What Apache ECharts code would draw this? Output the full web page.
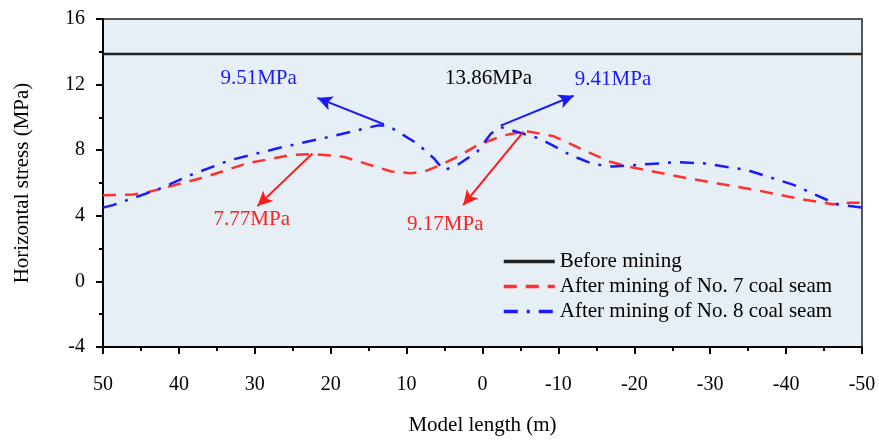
<!DOCTYPE html>
<html>
<head>
<meta charset="utf-8">
<script src="https://cdn.jsdelivr.net/npm/echarts@6/dist/echarts.min.js"></script>
<style>
  html, body { margin: 0; padding: 0; background: #fff; }
  #chart { width: 879px; height: 444px; }
</style>
</head>
<body>
<div id="chart"></div>
<script>
// model length positions (m) and horizontal stress (MPa)
const beforeX = [50, -50];
const beforeY = [13.86, 13.86];

const seam7X = [50, 46, 44, 37, 31, 25.3, 22.4, 18.3, 12, 9.5, 7.7, 5.5, 2.9, 0.7, -2.8, -5.7, -9.4, -12.9, -16.8, -19.5, -26.9, -35.7, -42.2, -46.2, -48.4, -50];
const seam7Y = [5.25, 5.3, 5.45, 6.3, 7.2, 7.7, 7.77, 7.6, 6.7, 6.6, 6.7, 7.1, 7.7, 8.3, 8.9, 9.17, 8.85, 8.1, 7.3, 6.97, 6.3, 5.6, 5.0, 4.7, 4.8, 4.8];

const seam8X = [50, 48.7, 42.8, 38.4, 33.2, 26.6, 20, 13.9, 12.5, 8.6, 6.4, 5.1, 3.3, 0.7, -1.1, -2.4, -7.6, -11.6, -14.6, -17.2, -20.3, -25.6, -29.1, -34.8, -40.9, -46.7, -50];
const seam8Y = [4.5, 4.65, 5.6, 6.5, 7.4, 8.16, 8.83, 9.5, 9.51, 8.4, 7.5, 6.77, 7.1, 7.9, 9.0, 9.41, 8.7, 7.7, 7.15, 7.0, 7.1, 7.27, 7.2, 6.8, 5.9, 4.7, 4.5];

const xTicks = [50, 40, 30, 20, 10, 0, -10, -20, -30, -40, -50];

// annotation labels and arrows (data coordinates)
const labels = [
  { text: '9.51MPa', x: 29.5, y: 12.36, color: '#1a1aff' },
  { text: '13.86MPa', x: -0.8, y: 12.36, color: '#000' },
  { text: '9.41MPa', x: -17.2, y: 12.3, color: '#1a1aff' },
  { text: '7.77MPa', x: 30.4, y: 3.78, color: '#ff2020' },
  { text: '9.17MPa', x: 4.9, y: 3.47, color: '#ff2020' }
];
const blueArrows = [[[13.0, 9.58], [21.75, 11.19]], [[-2.4, 9.5], [-12.0, 11.32]]];
const redArrows = [[[22.4, 7.8], [29.65, 4.59]], [[-5.4, 9.13], [2.55, 4.65]]];

const zip = (xs, ys) => xs.map((x, i) => [x, ys[i]]);
const FONT = '"Liberation Serif", "Times New Roman", serif';
const BLUE = '#1a1aff', RED = '#ff3030';

function arrowLines(list, color) {
  return {
    silent: true,
    symbol: ['none', 'arrow'],
    symbolSize: [11, 15],
    label: { show: false },
    lineStyle: { color: color, type: 'solid', width: 2 },
    data: list.map(a => [{ coord: a[0] }, { coord: a[1] }])
  };
}

let chart = echarts.init(document.getElementById('chart'));
chart.setOption({
  animation: false,
  textStyle: { fontFamily: FONT },
  grid: {
    left: 103, right: 17, top: 19, bottom: 97,
    show: true, backgroundColor: '#e6eef6', borderColor: '#222', borderWidth: 1.5
  },
  legend: {
    orient: 'vertical',
    left: 497, top: 246,
    itemWidth: 51, itemHeight: 14, itemGap: 4,
    itemStyle: { opacity: 0 },
    lineStyle: { width: 3.5 },
    textStyle: { fontFamily: FONT, fontSize: 21, color: '#000' },
    data: ['Before mining', 'After mining of No. 7 coal seam', 'After mining of No. 8 coal seam']
  },
  xAxis: {
    type: 'value', inverse: true, min: -50, max: 50, interval: 10,
    name: 'Model length (m)', nameLocation: 'middle', nameGap: 68,
    nameTextStyle: { fontFamily: FONT, fontSize: 21, color: '#000' },
    axisLine: { onZero: false, lineStyle: { color: '#000', width: 2 } },
    axisTick: { inside: false, length: 7, lineStyle: { width: 2, color: '#000' } },
    minorTick: { show: true, splitNumber: 2, length: 4, lineStyle: { width: 2, color: '#000' } },
    axisLabel: { margin: 28, fontFamily: FONT, fontSize: 20, color: '#000',
      formatter: v => xTicks.indexOf(v) >= 0 ? String(v) : '' },
    splitLine: { show: false }
  },
  yAxis: {
    type: 'value', min: -4, max: 16, interval: 4,
    name: 'Horizontal stress (MPa)', nameLocation: 'middle', nameGap: 70,
    nameTextStyle: { fontFamily: FONT, fontSize: 21, color: '#000' },
    axisLine: { show: true, onZero: false, lineStyle: { color: '#000', width: 2 } },
    axisTick: { show: true, inside: false, length: 7, lineStyle: { width: 2, color: '#000' } },
    minorTick: { show: true, splitNumber: 2, length: 4, lineStyle: { width: 2, color: '#000' } },
    axisLabel: { margin: 18, fontFamily: FONT, fontSize: 20, color: '#000' },
    splitLine: { show: false }
  },
  series: [
    {
      name: 'Before mining', type: 'line', symbol: 'none',
      data: zip(beforeX, beforeY),
      lineStyle: { color: '#222', width: 2.5 }, itemStyle: { color: '#000' },
      markPoint: {
        silent: true, symbol: 'circle', symbolSize: 1,
        itemStyle: { color: 'rgba(0,0,0,0)' },
        label: { show: true, position: 'inside', fontFamily: FONT, fontSize: 21,
          formatter: p => p.name },
        data: labels.map(l => ({ name: l.text, coord: [l.x, l.y],
          label: { color: l.color } }))
      }
    },
    {
      name: 'After mining of No. 7 coal seam', type: 'line', symbol: 'none',
      data: zip(seam7X, seam7Y),
      lineStyle: { color: RED, width: 2.5, type: [13, 9] }, itemStyle: { color: RED },
      markLine: arrowLines(redArrows, '#ff1a1a')
    },
    {
      name: 'After mining of No. 8 coal seam', type: 'line', symbol: 'none',
      data: zip(seam8X, seam8Y),
      lineStyle: { color: BLUE, width: 2.5, type: [14, 9, 3, 9] }, itemStyle: { color: BLUE },
      markLine: arrowLines(blueArrows, BLUE)
    }
  ]
});
</script>
</body>
</html>
